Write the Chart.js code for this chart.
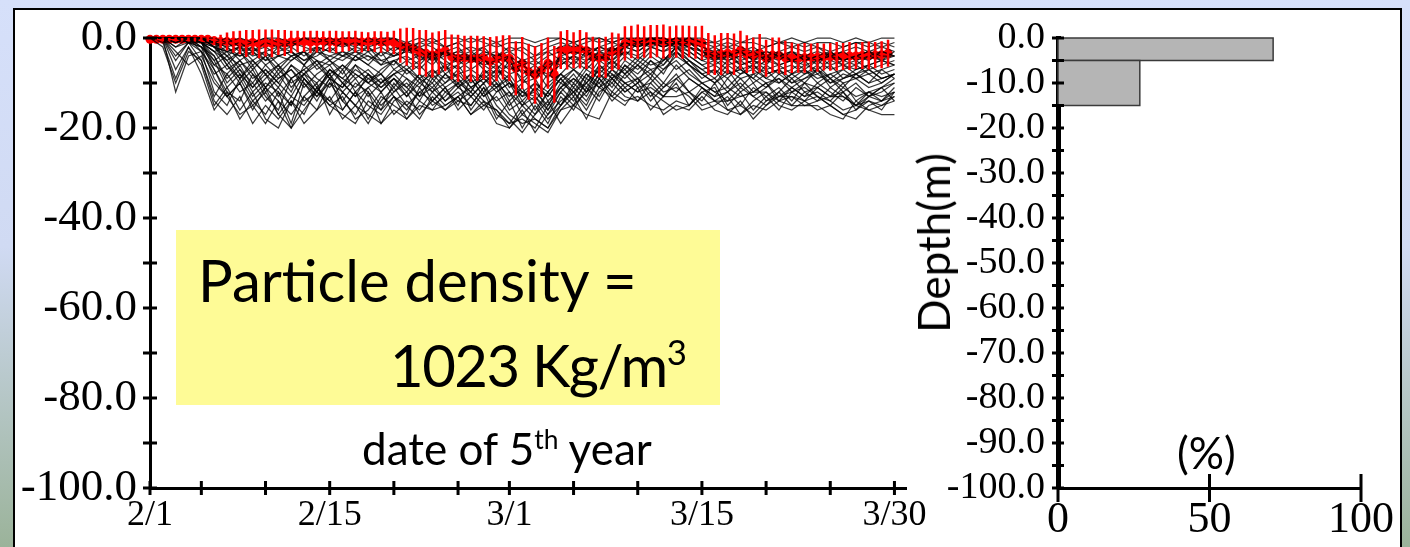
<!DOCTYPE html>
<html>
<head>
<meta charset="utf-8">
<script src="https://cdn.jsdelivr.net/npm/chart.js@4.4.0/dist/chart.umd.min.js"></script>
<style>
  html, body { margin: 0; padding: 0; }
  body { width: 1410px; height: 547px; overflow: hidden; position: relative;
    background: linear-gradient(to bottom, #d6e0fa 0%, #d0daf3 45%, #9bb39a 100%); }
  #panel { position: absolute; left: 13px; top: 8px; width: 1389px; height: 560px;
    box-sizing: border-box; border: 2px solid #000; background: #fff; }
  canvas { position: absolute; }
  .lbl { position: absolute; font-family: Lato, sans-serif; color: #000; white-space: nowrap; }
  #note { position: absolute; left: 176px; top: 230px; width: 544px; height: 175px; background: #fefb96; }
  sup { font-size: 0.6em; line-height: 0; vertical-align: 0.62em; }
</style>
</head>
<body>
<div id="panel"></div>
<div id="note"></div>
<canvas id="trackChart" width="930" height="537" style="left:15px;top:10px"></canvas>
<canvas id="histChart" width="465" height="537" style="left:935px;top:10px"></canvas>
<div class="lbl" style="left:198px;top:251px;font-size:58px;line-height:58px">Particle density =</div>
<div class="lbl" style="left:390px;top:336px;font-size:58px;line-height:58px;letter-spacing:-1.5px">1023 Kg/m<sup>3</sup></div>
<div class="lbl" style="left:362px;top:426px;font-size:44px;line-height:44px">date of 5<sup>th</sup> year</div>
<div class="lbl" style="left:1177px;top:430px;font-size:44px;line-height:44px">(%)</div>
<div class="lbl" style="left:933px;top:243px;font-size:44px;line-height:44px;transform:translate(-50%,-50%) rotate(-90deg)">Depth(m)</div>
<script>
// x axis ticks (days since 2/1)
var tickDays = [0, 4, 9, 14, 19, 24, 28, 33, 38, 43, 48, 53, 58];
var labelDays = [0, 14, 28, 43, 58];
var labelText = ["2/1", "2/15", "3/1", "3/15", "3/30"];

// particle depth tracks, one value per day (m)
var p01 = [0,0,0,0,0,0,-1,0,-1,0, 0,-1,0,0,-1,0,0,-1,0,0, -1,0,-1,0,0,-1,0,-1,0,0, -1,0,0,-1,0,0,-1,0,0,0, 0,-1,0,0,-1,0,-1,0,0,-1, 0,-1,0,0,-1,0,-1,0,0];
var p02 = [0,0,0,-1,0,-2,-3,-2,-4,-3, -2,-4,-3,-2,-3,-4,-2,-3,-2,-4, -3,-2,-4,-3,-2,-5,-3,-4,-3,-5, -4,-3,-5,-4,-2,-3,-2,-1,-2,-1, -1,-2,-1,-3,-4,-3,-5,-4,-3,-4, -5,-4,-3,-4,-5,-4,-3,-4,-4];
var p03 = [0,0,-1,0,-1,-3,-2,-5,-3,-6, -4,-5,-3,-6,-4,-3,-5,-4,-6,-3, -5,-4,-6,-3,-5,-4,-6,-5,-7,-6, -8,-5,-6,-4,-5,-3,-4,-2,-3,-1, -2,-1,-2,-4,-3,-5,-4,-6,-4,-5, -3,-5,-4,-6,-5,-4,-5,-3,-4];
var p04 = [0,0,0,0,-1,-1,-4,-2,-3,-5, -2,-3,-6,-2,-5,-3,-4,-2,-5,-6, -2,-5,-3,-7,-4,-3,-5,-7,-4,-8, -6,-9,-4,-6,-3,-5,-2,-4,-1,-2, -1,-2,-2,-3,-5,-4,-3,-5,-6,-3, -5,-4,-6,-3,-5,-6,-4,-5,-3];
var p05 = [0,0,-2,0,-1,-6,-8,-5,-9,-7, -10,-6,-8,-5,-9,-6,-8,-10,-7,-5, -8,-6,-9,-7,-6,-10,-8,-6,-11,-9, -12,-8,-10,-7,-9,-5,-7,-4,-6,-3, -5,-2,-4,-6,-8,-5,-7,-9,-6,-8, -7,-5,-8,-6,-9,-7,-6,-8,-7];
var p06 = [0,0,0,-1,-2,-4,-10,-7,-12,-9, -6,-11,-8,-12,-7,-10,-13,-8,-11,-9, -12,-8,-10,-6,-9,-12,-7,-10,-13,-10, -9,-14,-11,-8,-12,-6,-9,-7,-10,-5, -8,-3,-6,-9,-7,-11,-8,-6,-9,-7, -10,-8,-6,-9,-11,-8,-7,-9,-8];
var p07 = [0,0,-12,-4,-3,-12,-15,-9,-14,-17, -12,-19,-10,-14,-9,-16,-12,-18,-13,-15, -17,-11,-15,-13,-10,-16,-12,-18,-14,-20, -15,-19,-13,-16,-11,-14,-9,-12,-10,-14, -11,-8,-12,-14,-10,-15,-12,-16,-13,-11, -14,-10,-13,-15,-12,-16,-13,-14,-11];
var p08 = [0,-1,-9,-2,-6,-15,-11,-16,-12,-18, -20,-14,-17,-11,-15,-13,-18,-16,-12,-17, -14,-16,-12,-15,-13,-17,-14,-19,-20,-16, -21,-17,-14,-12,-15,-9,-13,-15,-11,-16, -13,-10,-15,-11,-13,-12,-9,-12,-10,-14, -11,-13,-10,-12,-14,-11,-13,-12,-10];
var p09 = [0,0,-5,-1,-2,-9,-13,-10,-16,-11, -14,-17,-13,-10,-17,-12,-15,-19,-14,-11, -15,-18,-13,-16,-14,-12,-15,-13,-17,-19, -18,-20,-16,-13,-18,-12,-10,-13,-14,-12, -17,-15,-16,-13,-16,-17,-14,-18,-15,-13, -12,-11,-13,-14,-16,-15,-14,-16,-12];
var p10 = [0,0,-1,0,-3,-7,-12,-14,-8,-13, -16,-9,-14,-12,-8,-14,-10,-12,-16,-10, -13,-9,-14,-11,-15,-9,-13,-11,-16,-14, -17,-12,-15,-10,-13,-8,-11,-6,-9,-7, -10,-6,-9,-11,-13,-9,-12,-10,-14,-12, -9,-12,-11,-13,-10,-14,-12,-11,-9];
var p11 = [0,0,0,0,-1,-3,-5,-9,-6,-11, -8,-12,-6,-9,-11,-7,-12,-9,-8,-12, -10,-13,-8,-11,-9,-13,-10,-8,-12,-15, -11,-16,-12,-9,-11,-7,-5,-8,-6,-9, -4,-7,-5,-8,-10,-7,-11,-8,-7,-10, -8,-10,-7,-11,-9,-8,-10,-7,-9];
var p12 = [0,0,0,0,0,-2,-1,-3,-2,-4, -3,-2,-4,-2,-3,-1,-3,-2,-4,-2, -3,-1,-2,-4,-3,-2,-3,-4,-2,-3, -5,-3,-2,-1,-3,-2,-1,-2,-1,0, -1,0,-1,-2,-3,-2,-3,-2,-4,-3, -2,-3,-2,-4,-3,-2,-3,-2,-3];
var p13 = [0,0,0,-1,0,-1,-6,-3,-7,-4, -8,-5,-3,-7,-5,-8,-4,-6,-3,-7, -5,-7,-4,-8,-6,-4,-7,-9,-5,-10, -7,-11,-8,-5,-7,-4,-6,-3,-5,-2, -3,-1,-3,-5,-4,-6,-5,-7,-5,-6, -8,-6,-5,-7,-6,-8,-6,-5,-6];
var p14 = [0,0,-3,-6,-4,-10,-13,-17,-15,-19, -14,-20,-16,-12,-15,-17,-19,-14,-16,-13, -18,-15,-16,-12,-14,-15,-11,-17,-19,-18, -20,-15,-11,-14,-10,-13,-8,-11,-14,-10, -13,-9,-12,-10,-12,-14,-11,-13,-15,-12, -15,-12,-14,-11,-13,-15,-12,-13,-12];
var p15 = [0,0,0,0,-1,-2,-4,-6,-5,-8, -6,-9,-7,-5,-8,-6,-9,-7,-10,-8, -6,-9,-7,-10,-8,-7,-9,-11,-8,-12, -10,-13,-9,-7,-10,-6,-8,-10,-9,-12, -14,-16,-15,-12,-11,-16,-15,-17,-14,-13, -13,-15,-15,-17,-18,-14,-16,-17,-17];
var p16 = [0,0,0,0,0,-1,-2,-1,-3,-1, -2,-1,-2,-3,-1,-2,-1,-2,-1,-3, -1,-2,-1,-2,-1,-3,-2,-1,-3,-2, -4,-2,-1,-2,-1,0,-1,0,-1,0, 0,-1,0,-1,-2,-1,-2,-3,-2,-1, -2,-1,-2,-3,-2,-1,-2,-1,-2];
var p17 = [0,0,0,0,-2,-5,-3,-7,-10,-6, -9,-7,-11,-8,-6,-10,-7,-9,-11,-8, -7,-10,-8,-6,-11,-8,-10,-7,-9,-13, -10,-12,-8,-11,-7,-9,-6,-8,-5,-7, -6,-3,-5,-7,-6,-8,-7,-6,-8,-7, -6,-8,-7,-9,-7,-6,-8,-7,-6];
var p18 = [0,-2,-10,-3,-5,-13,-8,-12,-10,-14, -11,-15,-9,-13,-10,-12,-15,-11,-9,-13, -16,-12,-10,-14,-11,-13,-16,-12,-10,-15, -13,-17,-12,-15,-9,-11,-13,-10,-12,-9, -12,-11,-13,-16,-15,-13,-17,-14,-12,-15, -16,-14,-13,-15,-17,-16,-14,-15,-13];
var p19 = [0,0,0,0,0,-1,-3,-4,-2,-5, -4,-3,-5,-3,-4,-5,-3,-4,-5,-4, -3,-4,-5,-3,-4,-5,-4,-3,-6,-5, -6,-4,-3,-5,-4,-2,-3,-1,-2,-1, -2,-1,-2,-3,-4,-5,-4,-3,-5,-4, -3,-4,-5,-4,-3,-5,-4,-3,-4];
var p20 = [0,0,0,0,-1,-3,-7,-5,-8,-11, -7,-10,-8,-6,-9,-11,-6,-8,-10,-7, -9,-11,-7,-9,-8,-11,-9,-7,-10,-12, -14,-10,-8,-10,-6,-8,-5,-7,-4,-6, -5,-2,-4,-6,-5,-7,-9,-8,-10,-9, -11,-9,-8,-10,-8,-9,-11,-10,-8];
var p21 = [0,0,0,0,-1,-4,-9,-6,-11,-8, -13,-9,-7,-11,-8,-12,-9,-13,-10,-8, -11,-14,-9,-12,-10,-8,-12,-9,-14,-11, -16,-12,-9,-13,-8,-10,-7,-9,-6,-8, -5,-3,-6,-8,-7,-9,-6,-10,-8,-7, -9,-7,-10,-8,-7,-9,-8,-10,-8];
var p22 = [0,0,-7,-2,-8,-16,-12,-18,-14,-11, -17,-20,-13,-16,-10,-14,-17,-12,-19,-14, -12,-17,-14,-11,-16,-13,-10,-15,-18,-21, -17,-14,-19,-15,-12,-10,-14,-11,-9,-13, -10,-12,-9,-11,-14,-12,-15,-11,-13,-16, -12,-14,-11,-13,-12,-15,-13,-11,-14];
var p23 = [0,0,0,0,0,-2,-5,-3,-6,-4, -7,-4,-6,-3,-5,-7,-4,-6,-8,-5, -4,-6,-3,-5,-7,-5,-6,-8,-6,-9, -7,-8,-6,-4,-6,-3,-5,-2,-3,-1, -2,-1,-2,-4,-5,-3,-6,-5,-4,-6, -5,-7,-5,-4,-6,-5,-7,-6,-5];
var p24 = [0,0,0,0,-1,-5,-11,-8,-13,-10, -12,-15,-9,-12,-14,-10,-13,-11,-15,-12, -9,-13,-11,-14,-12,-15,-11,-14,-12,-17, -14,-18,-15,-11,-14,-9,-12,-8,-11,-10, -7,-5,-8,-10,-9,-12,-10,-13,-11,-9, -12,-10,-11,-9,-12,-10,-13,-11,-10];
var p25 = [0,0,0,0,0,-1,0,-2,-1,0, -1,-2,0,-1,0,-1,-2,0,-1,0, -2,-1,0,-2,-1,0,-1,-2,-1,-1, -2,-1,0,-1,0,-1,0,0,-1,0, -1,0,0,-1,-1,-2,-1,-1,-2,-1, -1,-2,-1,-1,-2,-1,-1,-2,-1];
var p26 = [0,0,0,-1,-3,-8,-6,-10,-7,-12, -9,-7,-10,-13,-9,-11,-8,-10,-12,-9, -11,-8,-12,-10,-7,-11,-9,-12,-10,-13, -12,-15,-10,-12,-8,-11,-7,-10,-12,-11, -13,-13,-12,-15,-14,-14,-13,-12,-12,-14, -15,-15,-14,-13,-13,-15,-16,-15,-14];
var p27 = [0,0,-1,0,-2,-6,-4,-8,-11,-7, -10,-13,-8,-10,-7,-9,-11,-8,-12,-9, -13,-10,-12,-8,-11,-9,-13,-10,-15,-12, -13,-16,-11,-9,-12,-8,-10,-6,-8,-5, -7,-4,-6,-8,-10,-8,-7,-9,-11,-8, -10,-9,-7,-10,-9,-8,-10,-9,-8];
var p28 = [0,0,0,0,0,-1,-2,-4,-3,-2, -4,-3,-5,-4,-2,-4,-3,-5,-3,-4, -2,-3,-5,-4,-3,-4,-2,-5,-4,-6, -5,-7,-4,-3,-4,-2,-3,-1,-2,0, -1,0,-1,-3,-2,-4,-3,-5,-3,-4, -3,-5,-4,-3,-5,-4,-3,-5,-4];
var p29 = [0,0,-4,-1,-5,-14,-17,-13,-19,-15, -18,-14,-19,-16,-13,-18,-15,-17,-19,-16, -18,-14,-16,-15,-13,-17,-15,-16,-20,-17, -19,-21,-16,-15,-17,-18,-12,-14,-13,-15, -16,-14,-15,-12,-14,-16,-17,-15,-16,-14, -13,-14,-16,-15,-17,-18,-15,-14,-13];
var p30 = [0,0,0,0,-1,-2,-6,-9,-5,-8, -11,-6,-9,-12,-7,-9,-6,-10,-8,-11, -7,-9,-11,-8,-10,-12,-8,-11,-9,-14, -11,-13,-9,-12,-10,-7,-9,-5,-7,-4, -6,-2,-5,-7,-9,-6,-8,-7,-9,-10, -8,-7,-9,-8,-10,-9,-7,-9,-8];
var p31 = [0,0,0,0,0,-2,-3,-2,-5,-3, -6,-4,-3,-5,-6,-4,-5,-3,-6,-5, -7,-5,-4,-6,-5,-7,-5,-6,-8,-7, -9,-6,-5,-7,-5,-4,-5,-3,-4,-2, -3,-2,-3,-5,-6,-4,-6,-5,-7,-6, -5,-6,-7,-5,-6,-7,-6,-5,-6];
var p32 = [0,0,-2,-1,-1,-7,-13,-10,-15,-12, -17,-13,-15,-11,-14,-16,-12,-15,-17,-13, -15,-12,-14,-16,-13,-11,-14,-16,-19,-15, -18,-20,-15,-12,-16,-11,-9,-12,-10,-8, -11,-9,-7,-10,-12,-11,-13,-12,-10,-13, -11,-13,-12,-14,-11,-13,-12,-14,-12];
var particlePaths = [p01,p02,p03,p04,p05,p06,p07,p08,p09,p10,p11,p12,p13,p14,p15,p16,
  p17,p18,p19,p20,p21,p22,p23,p24,p25,p26,p27,p28,p29,p30,p31,p32];

// mean depth and standard deviation, every half day (m)
var meanDepth = [-0.3,-0.3,-0.3,-0.3,-0.3,-0.3,-0.3,-0.3,-0.3,-0.3,
  -0.6,-0.8,-0.8,-0.9,-1.0,-1.2,-1.0,-1.3,-1.1,
  -1.2,-1.0,-1.1,-0.9,-0.8,
  -0.8,-0.9,-0.8,-0.7,-0.8,-0.9,-0.8,-0.7,-0.8,-0.9,-0.8,-0.8,-0.9,-0.8,
  -1.0, -1.7,-1.9,-2.4, -3.2,-3.4, -3.8,-3.3,-2.8,
  -4.2,-4.5,-4.4,-4.6,-4.5,-4.4,-5.2,-4.6,-4.3,-4.5,
  -6.7,-5.6,-7.5,-8.2,-7.1,-5.6,-8.1,
  -2.7,-2.6,-2.7,-2.5,-2.8, -4.2,-4.4,-4.3, -3.0,-3.0, -1.2,
  -0.9,-0.8,-0.9,-0.8,-0.7,-0.8,-0.9,-0.8,-0.9,-0.8,-1.0,-1.1,
  -3.5,-3.8,-3.6,-3.4,-3.6,-2.7,
  -3.6,-3.9,-3.4,-4.5,-3.8,-3.9,-4.4,
  -4.4,-4.5,-4.4,-4.3,-4.3,-4.2,-4.2,-4.1,-4.1,-4.0,-4.0,-3.9,-3.9,-3.8,-3.7,-3.4];
var depthSd = [0.3,0.3,0.4,0.3,0.4,0.3,0.4,0.4,0.5,0.5,
  1.0,1.5,2.0,2.4,2.6,3.0,2.8,3.2,3.0,
  3.1,2.8,2.9,2.5,2.4,
  2.3,2.5,2.4,2.2,2.4,2.5,2.3,2.2,2.4,2.3,2.1,2.3,2.4,2.2,
  2.6, 3.8,4.2,4.6, 5.0,5.2, 5.0,4.8,4.6,
  5.0,5.2,4.9,5.1,5.0,4.8,5.4,5.0,4.9,5.1,
  6.0,5.8,6.2,6.4,6.0,5.7,6.3,
  4.2,4.4,4.0,4.3,4.1, 4.5,4.3,4.6, 4.2,4.0, 3.8,
  3.6,3.8,3.5,3.7,3.6,3.8,3.5,3.6,3.7,3.5,3.6,3.8,
  4.6,4.4,4.7,4.5,4.6,4.3,
  4.2,4.0,4.3,4.1,3.9,4.0,3.8,
  3.4,3.2,3.3,3.1,3.2,3.0,3.1,3.2,3.0,3.1,2.9,3.0,3.1,2.9,3.0,3.0];

// depth histogram (right panel)
var binTop = [0, -5];
var binBottom = [-5, -15];
var binPercent = [71, 27];

Chart.defaults.font.family = "'Liberation Serif', serif";
Chart.defaults.color = "#000";

// keep label overflow from moving the plot area
function noPad(s) {
  s.paddingTop = 0; s.paddingBottom = 0; s.paddingLeft = 0; s.paddingRight = 0;
}

// ticks that cross the axis line
var crossTicks = {
  id: 'crossTicks',
  afterDraw: function(chart, args, opts) {
    var ctx = chart.ctx, xs = chart.scales.x, ys = chart.scales.y;
    ctx.save();
    ctx.strokeStyle = '#000';
    ctx.lineWidth = opts.width;
    ctx.beginPath();
    xs.ticks.forEach(function(t) {
      var px = xs.getPixelForValue(t.value);
      ctx.moveTo(px, xs.top - opts.xLen);
      ctx.lineTo(px, xs.top + opts.xLen);
    });
    ys.ticks.forEach(function(t) {
      var py = ys.getPixelForValue(t.value);
      ctx.moveTo(ys.right - opts.yLen, py);
      ctx.lineTo(ys.right + opts.yLen, py);
    });
    ctx.stroke();
    ctx.restore();
  }
};

// vertical error bars on the mean line
var errorBars = {
  id: 'errorBars',
  afterDatasetsDraw: function(chart) {
    var ctx = chart.ctx, xs = chart.scales.x, ys = chart.scales.y;
    ctx.save();
    ctx.strokeStyle = '#ff0000';
    ctx.lineWidth = 2.5;
    ctx.beginPath();
    meanDepth.forEach(function(m, k) {
      var px = xs.getPixelForValue(k * 0.5);
      ctx.moveTo(px, ys.getPixelForValue(m + depthSd[k]));
      ctx.lineTo(px, ys.getPixelForValue(m - depthSd[k]));
    });
    ctx.stroke();
    ctx.restore();
  }
};

var trackSets = particlePaths.map(function(p) {
  return {
    data: p.map(function(v, i) { return {x: i, y: v}; }),
    borderColor: 'rgba(0,0,0,0.78)',
    borderWidth: 1.25,
    pointRadius: 0,
    tension: 0,
    clip: false
  };
});
trackSets.push({
  data: meanDepth.map(function(v, k) { return {x: k * 0.5, y: v}; }),
  borderColor: '#ff0000',
  backgroundColor: '#ff0000',
  borderWidth: 3,
  pointRadius: 4.5,
  pointBorderWidth: 0,
  tension: 0,
  clip: false
});

var ctxT = document.getElementById('trackChart').getContext('2d');
var trackChart = new Chart(ctxT, {
  type: 'line',
  data: { datasets: trackSets },
  plugins: [crossTicks, errorBars],
  options: {
    responsive: false,
    animation: false,
    devicePixelRatio: 1,
    events: [],
    layout: { padding: { left: 0, top: 28, right: 39, bottom: 0 } },
    plugins: {
      legend: { display: false },
      tooltip: { enabled: false },
      crossTicks: { xLen: 7, yLen: 7, width: 3 }
    },
    scales: {
      x: {
        type: 'linear', min: 0, max: 58.9,
        afterBuildTicks: function(s) { s.ticks = tickDays.map(function(v) { return {value: v}; }); },
        afterFit: function(s) { s.height = 59; noPad(s); },
        grid: { drawOnChartArea: false, drawTicks: false },
        border: { color: '#000', width: 3 },
        ticks: {
          autoSkip: false, maxRotation: 0, padding: 6,
          font: { size: 36 },
          callback: function(v) { var i = labelDays.indexOf(v); return i >= 0 ? labelText[i] : ''; }
        }
      },
      y: {
        min: -100, max: 0,
        afterFit: function(s) { s.width = 135; noPad(s); },
        grid: { drawOnChartArea: false, drawTicks: false },
        border: { color: '#000', width: 3 },
        ticks: {
          autoSkip: false, stepSize: 10, padding: 13,
          font: { size: 45 },
          callback: function(v) { return v % 20 === 0 ? v.toFixed(1) : ''; }
        }
      }
    }
  }
});

// histogram bars drawn through the chart scales
var histBars = {
  id: 'histBars',
  beforeDatasetsDraw: function(chart) {
    var ctx = chart.ctx, xs = chart.scales.x, ys = chart.scales.y;
    ctx.save();
    ctx.fillStyle = '#b5b5b5';
    ctx.strokeStyle = '#3a3a3a';
    ctx.lineWidth = 1.5;
    binPercent.forEach(function(p, i) {
      var x0 = xs.getPixelForValue(0), x1 = xs.getPixelForValue(p);
      var y0 = ys.getPixelForValue(binTop[i]), y1 = ys.getPixelForValue(binBottom[i]);
      ctx.fillRect(x0, y0, x1 - x0, y1 - y0);
      ctx.strokeRect(x0, y0, x1 - x0, y1 - y0);
    });
    ctx.restore();
  }
};

var ctxH = document.getElementById('histChart').getContext('2d');
var histChart = new Chart(ctxH, {
  type: 'scatter',
  data: { datasets: [{ data: [] }] },
  plugins: [histBars, crossTicks],
  options: {
    responsive: false,
    animation: false,
    devicePixelRatio: 1,
    events: [],
    layout: { padding: { left: 0, top: 28, right: 39, bottom: 0 } },
    plugins: {
      legend: { display: false },
      tooltip: { enabled: false },
      crossTicks: { xLen: 14, yLen: 6, width: 3 }
    },
    scales: {
      x: {
        type: 'linear', min: 0, max: 100,
        afterFit: function(s) { s.height = 59; noPad(s); },
        grid: { drawOnChartArea: false, drawTicks: false },
        border: { color: '#000', width: 3 },
        ticks: { autoSkip: false, stepSize: 50, padding: 6, maxRotation: 0, font: { size: 44 } }
      },
      y: {
        min: -100, max: 0,
        afterFit: function(s) { s.width = 123; noPad(s); },
        grid: { drawOnChartArea: false, drawTicks: false },
        border: { color: '#000', width: 5 },
        ticks: {
          autoSkip: false, stepSize: 5, padding: 13,
          font: { size: 38 },
          callback: function(v) { return v % 10 === 0 ? v.toFixed(1) : ''; }
        }
      }
    }
  }
});
</script>
</body>
</html>
